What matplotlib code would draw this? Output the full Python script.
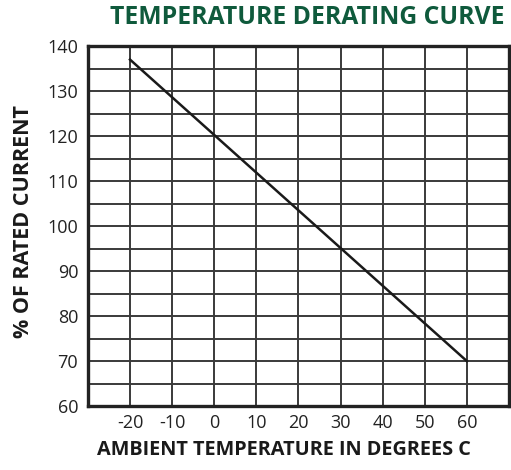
import matplotlib.pyplot as plt
import numpy as np

# derating curve endpoints
temp_c = [-20, 60]
pct_rated = [137, 70]

x_ticks = [-20, -10, 0, 10, 20, 30, 40, 50, 60]
y_ticks = [60, 70, 80, 90, 100, 110, 120, 130, 140]

plt.rcParams['font.family'] = ['Open Sans', 'DejaVu Sans']
plt.rcParams['axes.unicode_minus'] = False

fig = plt.figure(figsize=(5.11, 4.70), dpi=100)
ax = fig.add_axes([0.172, 0.136, 0.824, 0.766])

ax.plot(temp_c, pct_rated, color='#1a1a1a', linewidth=1.8, zorder=3)

ax.set_xlim(-30, 70)
ax.set_ylim(60, 140)
ax.set_xticks(x_ticks)
ax.set_xticklabels([str(v) for v in x_ticks])
ax.set_yticks(y_ticks)
ax.set_yticks(np.arange(65, 140, 10), minor=True)
ax.grid(True, which='both', color='#3a3a3a', linewidth=1.4)
ax.tick_params(which='both', length=0)
ax.tick_params(axis='x', pad=6, labelsize=13, colors='#222222')
ax.tick_params(axis='y', pad=7, labelsize=13, colors='#222222')

for s in ax.spines.values():
    s.set_linewidth(2.4)
    s.set_color('#222222')

fig.text(0.988, 0.962, 'TEMPERATURE DERATING CURVE', ha='right', va='center',
         fontsize=17.8, fontweight='bold', color='#0f5a3c')
fig.text(0.555, 0.022, 'AMBIENT TEMPERATURE IN DEGREES C', ha='center', va='bottom',
         fontsize=14.3, fontweight='bold', color='#1a1a1a')
fig.text(0.046, 0.528, '% OF RATED CURRENT', rotation=90, ha='center', va='center',
         fontsize=15.5, fontweight='bold', color='#1a1a1a')

fig.savefig('out.png', dpi=100)
